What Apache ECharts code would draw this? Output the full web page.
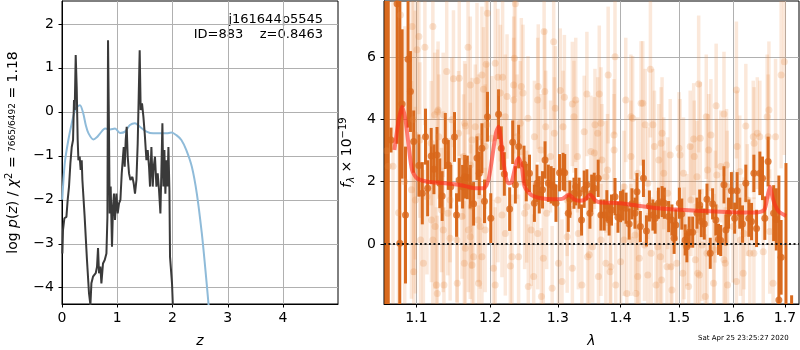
<!DOCTYPE html>
<html>
<head>
<meta charset="utf-8">
<script src="https://cdn.jsdelivr.net/npm/echarts@6/dist/echarts.min.js"></script>
<style>
  html, body { margin: 0; padding: 0; background: #fff; }
  #chart { width: 800px; height: 350px; }
</style>
</head>
<body>
<div id="chart"></div>
<script>
// left panel: log p(z) and chi2 curve
const zTicks = [0, 1, 2, 3, 4]
const logpTicks = [-4, -3, -2, -1, 0, 1, 2]
const zBlack = [0.007, 0.018, 0.043, 0.08, 0.103, 0.127, 0.152, 0.176, 0.2, 0.217, 0.23, 0.248, 0.266, 0.284, 0.297, 0.32, 0.338, 0.357, 0.369, 0.41, 0.452, 0.489, 0.514, 0.532, 0.561, 0.61, 0.634, 0.652, 0.67, 0.695, 0.713, 0.742, 0.773, 0.804, 0.822, 0.833, 0.851, 0.863, 0.881, 0.905, 0.923, 0.941, 0.959, 0.985, 1.008, 1.032, 1.057, 1.081, 1.099, 1.117, 1.135, 1.153, 1.171, 1.189, 1.213, 1.238, 1.274, 1.298, 1.321, 1.347, 1.37, 1.388, 1.406, 1.424, 1.448, 1.473, 1.497, 1.528, 1.551, 1.575, 1.593, 1.618, 1.642, 1.66, 1.683, 1.709, 1.732, 1.756, 1.781, 1.799, 1.817, 1.835, 1.853, 1.871, 1.89, 1.908, 1.926, 1.944, 1.955, 1.973, 1.991, 2.009]
const logpBlack = [-3.22, -2.69, -2.42, -2.39, -2.0, -1.7, -1.17, -0.8, -0.64, 0.27, 0.04, 1.29, 0.57, -0.64, -1.1, -1.02, -1.32, -1.1, -1.55, -2.39, -3.37, -4.13, -4.39, -3.9, -3.75, -3.67, -3.52, -3.1, -3.67, -3.52, -3.9, -3.45, -3.37, -3.22, -2.39, 1.63, -0.49, -2.31, -1.7, -3.07, -2.16, -1.86, -2.46, -1.86, -2.31, -2.08, -2.0, -1.4, -1.1, -0.8, -1.25, -0.64, -0.34, -1.02, -1.4, -1.55, -1.48, -1.63, -1.86, -1.55, -0.72, 0.34, 1.4, 0.04, 0.19, -0.11, -0.49, -1.1, -0.87, -1.25, -1.7, -0.8, -1.7, -1.25, -1.02, -1.7, -1.4, -1.78, -2.31, -1.32, -0.26, -1.7, -0.87, -1.86, -1.1, -1.7, -0.8, -1.78, -3.3, -3.33, -3.9, -4.5]
const zBlue = [0.005, 0.05, 0.115, 0.175, 0.235, 0.28, 0.325, 0.385, 0.43, 0.48, 0.57, 0.63, 0.69, 0.78, 0.87, 0.96, 1.05, 1.14, 1.23, 1.32, 1.41, 1.53, 1.65, 1.77, 1.89, 1.98, 2.07, 2.16, 2.25, 2.35, 2.44, 2.53, 2.59, 2.65, 2.7]
const chi2Blue = [-2.0, -1.17, -0.64, -0.27, 0.04, 0.12, 0.15, -0.04, -0.3, -0.49, -0.63, -0.58, -0.49, -0.38, -0.4, -0.38, -0.48, -0.45, -0.3, -0.26, -0.34, -0.45, -0.49, -0.49, -0.49, -0.47, -0.53, -0.64, -0.87, -1.25, -1.86, -2.76, -3.52, -4.35, -5.1]

// right panel: spectrum
const lamTicks = [1.1, 1.2, 1.3, 1.4, 1.5, 1.6, 1.7]
const fluxTicks = [0, 2, 4, 6]
const lamBold = [1.061, 1.064, 1.0675, 1.0752, 1.0786, 1.0816, 1.0859, 1.0892, 1.0923, 1.0965,
  1.1032, 1.1077, 1.1119, 1.1147, 1.1194, 1.1230, 1.1271, 1.1308, 1.1340, 1.1382,
  1.1423, 1.1456, 1.1506, 1.1534, 1.1571, 1.1617, 1.1645, 1.1682, 1.1723, 1.1769,
  1.1816, 1.1848, 1.1885, 1.1921, 1.1963, 1.2010, 1.2121, 1.2160, 1.2204, 1.2281,
  1.2325, 1.2364, 1.2412, 1.2491, 1.2524, 1.2572, 1.2645, 1.2684, 1.2718, 1.2767,
  1.2805, 1.2855, 1.2898, 1.2936, 1.2971, 1.3026, 1.3080, 1.3106, 1.3161, 1.3186,
  1.3250, 1.3278, 1.3331, 1.3369, 1.3411, 1.3454, 1.3502, 1.3530, 1.3571, 1.3635,
  1.3679, 1.3732, 1.3775, 1.3812, 1.3851, 1.3908, 1.3957, 1.4000, 1.4039, 1.4091,
  1.4142, 1.4189, 1.4240, 1.4274, 1.4331, 1.4383, 1.4434, 1.4485, 1.4544, 1.4583,
  1.4640, 1.4703, 1.4743, 1.4818, 1.4875, 1.4914, 1.4943, 1.5007, 1.5049, 1.5109,
  1.5140, 1.5182, 1.5244, 1.5322, 1.5371, 1.5400, 1.5455, 1.5504, 1.5564, 1.5607,
  1.5667, 1.5716, 1.5758, 1.5818, 1.5855, 1.5904, 1.5958, 1.6019, 1.6066, 1.6116,
  1.6168, 1.6232, 1.6290, 1.6342, 1.6387, 1.6439, 1.6503, 1.6555, 1.6600, 1.6665,
  1.6774, 1.6826, 1.6878, 1.6923, 1.7020, 1.7134]
const fluxBold = [9, 9, 3.34, 7.72, 0.02, 4.50, 0.93, 5.94, 4.90, 3.29,
  2.52, 1.63, 3.45, 1.79, 2.83, 2.40, 2.86, 1.95, 1.54, 3.31,
  2.54, 1.84, 3.44, 0.93, 2.06, 1.84, 2.16, 2.14, 1.84, 1.29,
  2.76, 2.27, 3.08, 1.37, 4.09, 0.83, 4.17, 3.08, 2.25, 1.12,
  3.27, 1.90, 3.13, 2.56, 1.97, 2.27, 1.31, 1.95, 1.58, 1.74,
  2.70, 1.95, 1.90, 1.84, 1.31, 2.29, 2.33, 2.29, 0.99, 1.44,
  1.63, 1.84, 1.63, 0.77, 1.76, 1.90, 0.99, 1.63, 1.79, 2.11,
  0.93, 0.93, 1.23, 0.77, 1.09, 1.52, 0.86, 1.20, 1.25, 1.15,
  0.64, 1.29, 0.99, 1.68, 0.56, 2.11, 0.42, 1.22, 0.93, 0.83,
  1.31, 1.36, 1.31, 0.88, 0.77, 0.18, 0.61, 1.31, 0.96, 0.13,
  -0.09, 0.38, 0.38, 0.99, 1.25, 0.72, 0.64, 1.44, -0.30, 1.29,
  0.77, 0.15, 0.11, 1.90, 0.45, 0.99, 1.71, 0.83, 1.71, 0.99,
  0.64, 1.95, 0.83, 0.72, 2.27, 0.50, 2.27, 2.11, 0.83, 2.65,
  0.99, 0.79, -1.80, -0.43, -2.6, -1.95]
const errBold = [12, 12, 0.4, 4.5, 9.5, 2.4, 2.2, 2.2, 1.3, 1.0,
  1.0, 1.0, 0.9, 0.9, 0.9, 0.8, 0.9, 0.8, 0.8, 0.9,
  0.8, 0.7, 0.8, 0.7, 0.7, 0.7, 0.7, 0.7, 0.7, 0.7,
  0.7, 0.7, 0.8, 0.7, 0.8, 0.8, 0.8, 0.7, 0.7, 0.7,
  0.7, 0.6, 0.7, 0.6, 0.6, 0.6, 0.6, 0.6, 0.6, 0.6,
  0.6, 0.6, 0.6, 0.6, 0.6, 0.6, 0.6, 0.6, 0.6, 0.6,
  0.5, 0.6, 0.5, 0.5, 0.6, 0.5, 0.5, 0.6, 0.5, 0.6,
  0.5, 0.5, 0.5, 0.5, 0.5, 0.6, 0.5, 0.5, 0.5, 0.5,
  0.5, 0.5, 0.5, 0.6, 0.5, 0.6, 0.5, 0.5, 0.5, 0.5,
  0.5, 0.5, 0.5, 0.5, 0.5, 0.5, 0.5, 0.5, 0.5, 0.5,
  0.5, 0.5, 0.5, 0.5, 0.5, 0.5, 0.5, 0.5, 0.5, 0.5,
  0.5, 0.5, 0.5, 0.6, 0.5, 0.5, 0.6, 0.5, 0.6, 0.5,
  0.6, 0.6, 0.6, 0.6, 0.6, 0.6, 0.7, 0.7, 0.7, 0.8,
  0.9, 1.0, 4.0, 1.2, 5.2, 0.3]

const lamFaint = [1.0620, 1.0640, 1.0700, 1.0770, 1.0850, 1.0960, 1.0985,
  1.0795, 1.0944, 1.1032, 1.1008, 1.1111, 1.1216, 1.1401, 1.1492, 1.1571, 1.1692,
  1.1723, 1.1816, 1.1885, 1.1945, 1.1907, 1.1963, 1.2073, 1.2112, 1.2179, 1.2339,
  1.2349, 1.2364, 1.2243, 1.2146, 1.1240, 1.1285, 1.1354, 1.1470, 1.1654, 1.1792,
  1.1954, 1.1246, 1.1216, 1.1354, 1.1447, 1.1539, 1.1654, 1.1723, 1.1769, 1.1885,
  1.1931, 1.2048, 1.1640, 1.1747, 1.1838, 1.1544, 1.1263, 1.1364, 1.1274, 1.0965,
  1.1091, 1.2073, 1.2170, 1.2291, 1.2315, 1.2411, 1.2218, 1.1198, 1.1332, 1.1447,
  1.1609, 1.1696, 1.1862, 1.1055, 1.0987, 1.1194, 1.1295, 1.1561, 1.1747, 1.1838,
  1.1931, 1.1630, 1.1723, 1.2025, 1.2218, 1.2339, 1.2388, 1.2436,
  1.0936, 1.1138, 1.1415, 1.1737, 1.1830, 1.2112, 1.2500, 1.3144, 1.1046, 1.1645,
  1.1277, 1.2451, 1.2694,
  1.2791, 1.2936, 1.2703, 1.2801, 1.2961, 1.3037, 1.3101, 1.3225, 1.3278, 1.3454,
  1.3652, 1.3796, 1.3908, 1.4502, 1.4372, 1.4086, 1.4412, 1.4201, 1.3583, 1.3679,
  1.3250, 1.3080, 1.2815, 1.2645, 1.2549, 1.2476, 1.2946, 1.3411, 1.3892, 1.4571,
  1.4544, 1.2743, 1.2888, 1.3305, 1.3518, 1.3695, 1.3786, 1.4172, 1.4286, 1.2554,
  1.2634, 1.2750, 1.2913, 1.3064, 1.3225, 1.3374, 1.3639, 1.3828, 1.3920, 1.4103,
  1.4257, 1.4458, 1.4600, 1.2779, 1.3010, 1.3491, 1.3759, 1.4000, 1.4314, 1.4515,
  1.2597, 1.2694, 1.3144, 1.3318, 1.3546, 1.4057, 1.4240, 1.4400, 1.2531, 1.2830,
  1.3626, 1.3572, 1.3893, 1.4172, 1.4343, 1.4686, 1.5000, 1.5273, 1.5516, 1.5758,
  1.6066, 1.6453, 1.6646, 1.3760, 1.4057, 1.4458, 1.4801, 1.5213, 1.5880, 1.6259,
  1.3465, 1.3839, 1.4286, 1.4858, 1.5335, 1.5818, 1.6387, 1.3679, 1.4172, 1.4629,
  1.5091, 1.5636, 1.6130,
  1.5353, 1.6052, 1.5673, 1.5491, 1.5818, 1.6232, 1.5382, 1.5262, 1.5576, 1.6375,
  1.6503, 1.6665, 1.6681, 1.6812, 1.6923, 1.6987, 1.4703, 1.4845, 1.5018, 1.5200,
  1.5535, 1.5867, 1.6116, 1.6391, 1.4647, 1.4732, 1.5080, 1.5322, 1.5685, 1.4674,
  1.4789, 1.4960, 1.4695, 1.4875, 1.5067, 1.5171, 1.5291, 1.5367, 1.5473, 1.5626,
  1.5885, 1.6052, 1.6182, 1.5840, 1.5504, 1.6762, 1.5413, 1.6309, 1.6569, 1.5140,
  1.5989, 1.6197, 1.6696, 1.4746, 1.5655]
const fluxFaint = [3.0, 2.5, 2.5, 1.0, 2.0, 4.0, 3.5,
  7.36, 6.99, 6.67, 6.24, 6.32, 6.99, 5.54, 5.31, 5.33, 6.32,
  5.11, 5.25, 5.43, 5.78, 4.97, 7.42, 5.81, 5.36, 5.36, 5.11,
  5.97, 7.72, 4.74, 4.85, 4.15, 4.31, 4.15, 3.99, 3.79, 3.77,
  3.83, 0.56, 0.13, 0.45, 0.18, 0.13, -0.14, 0.23, -0.41, -0.41,
  0.45, -0.78, -0.62, -0.68, -1.26, -1.26, -1.32, -1.32, -1.59, -0.89,
  -0.62, -1.32, 0.93, -0.71, -0.41, -0.41, 0.34, 0.77, 1.09, 1.41,
  0.88, 0.45, 0.56, 0.13, 1.41, 3.24, 3.45, 3.56, 3.34, 3.45,
  3.13, 2.81, 2.54, 3.40, 4.09, 4.63, 3.45, 3.88,
  1.74, 1.52, 0.99, 1.20, 0.77, 1.41, 0.99, 1.41, 3.34, 3.88,
  4.25, 5.06, 4.63,
  6.83, 6.50, 5.06, 4.90, 4.36, 4.93, 4.72, 4.50, 4.63, 4.82,
  4.82, 5.43, 6.02, 5.62, 4.52, 4.63, 3.83, 4.04, 3.83, 3.88,
  4.09, 3.77, 3.77, 3.45, 4.04, 4.85, 3.56, 3.61, 3.50, 3.13,
  3.83, 3.02, 2.81, 2.81, 2.97, 2.70, 2.38, 2.81, 2.27, -1.37,
  -1.05, -1.69, -1.42, -1.21, -0.78, -1.32, -1.05, -0.89, -1.32, -1.59,
  -1.59, -1.00, -1.32, -0.46, -0.62, -0.35, -0.62, -0.57, -0.46, -0.30,
  0.45, 0.34, 0.23, 0.34, -0.09, 0.13, 0.29, -0.03, 1.20, 0.99,
  3.56, 2.92, 3.02, 4.09, 4.52, 3.24, 3.08, 2.81, 2.38, 2.49,
  3.13, 3.56, 4.09, 2.16, 1.84, 1.95, 1.63, 1.41, 1.84, 1.41,
  -0.41, -0.73, -1.05, -0.73, -0.94, -0.51, -0.30, 0.13, 0.13, -0.09,
  0.02, -0.19, 0.13,
  5.14, 4.95, 4.44, 4.09, 4.18, 3.79, 3.40, 3.37, 3.50, 3.45,
  3.45, 3.45, 4.31, 3.45, 5.43, 5.86, 3.56, 2.86, 2.86, 3.13,
  3.02, 2.54, 2.33, 3.24, 2.70, 2.27, 2.27, 2.16, 2.22, -0.41,
  -0.73, -0.62, -1.16, -1.48, -0.94, -1.37, -0.51, -1.00, -1.69, -1.26,
  -1.32, -1.21, -0.94, -0.62, -0.30, -1.26, -0.03, -0.30, -0.25, 0.45,
  0.56, 0.34, 0.40, 1.20, 1.20]
const errFaint = [7, 7, 6, 6, 5, 5, 4,
  3.5, 3.0, 2.5, 3.0, 2.5, 3.0, 2.5, 2.2, 2.5, 2.8,
  2.2, 2.5, 2.2, 2.5, 2.0, 3.0, 2.5, 2.2, 2.5, 2.2,
  2.5, 3.0, 2.0, 2.2, 2.0, 2.2, 2.0, 2.0, 2.0, 2.0,
  2.0, 2.0, 2.2, 2.0, 2.0, 2.0, 2.2, 2.0, 2.0, 2.0,
  2.0, 2.2, 2.0, 2.2, 2.5, 2.5, 2.5, 2.5, 2.5, 3.5,
  3.0, 2.5, 2.0, 2.0, 2.0, 2.0, 2.0, 2.0, 2.0, 2.0,
  2.0, 2.0, 2.0, 2.5, 3.0, 2.0, 2.0, 2.0, 2.0, 2.0,
  2.0, 2.0, 2.0, 2.0, 2.0, 2.0, 2.0, 2.0,
  3.5, 2.5, 2.0, 2.0, 2.0, 2.0, 1.8, 1.8, 2.5, 2.0,
  2.0, 2.2, 2.0,
  2.5, 2.5, 2.0, 2.0, 2.0, 2.0, 2.0, 2.0, 2.0, 2.0,
  2.2, 2.2, 2.5, 2.2, 2.0, 2.0, 1.8, 2.0, 1.8, 1.8,
  1.8, 1.8, 1.8, 1.8, 2.0, 2.2, 1.8, 1.8, 1.8, 1.8,
  1.8, 1.8, 1.8, 1.8, 1.8, 1.8, 1.8, 1.8, 1.8, 2.0,
  2.0, 2.2, 2.0, 2.0, 2.0, 2.0, 2.0, 2.0, 2.0, 2.2,
  2.2, 2.0, 2.0, 1.8, 1.8, 1.8, 1.8, 1.8, 1.8, 1.8,
  1.8, 1.8, 1.8, 1.8, 1.8, 1.8, 1.8, 1.8, 1.8, 1.8,
  1.8, 1.8, 1.8, 2.0, 2.0, 1.8, 1.8, 1.8, 1.8, 1.8,
  1.8, 1.8, 2.0, 1.8, 1.8, 1.8, 1.8, 1.8, 1.8, 1.8,
  1.8, 1.8, 1.8, 1.8, 1.8, 1.8, 1.8, 1.8, 1.8, 1.8,
  1.8, 1.8, 1.8,
  2.2, 2.2, 2.0, 2.0, 2.0, 2.0, 1.8, 1.8, 1.8, 1.8,
  1.8, 2.0, 2.2, 2.5, 3.0, 3.0, 1.8, 1.8, 1.8, 1.8,
  1.8, 1.8, 1.8, 1.8, 1.8, 1.8, 1.8, 1.8, 1.8, 1.8,
  1.8, 1.8, 2.0, 2.0, 1.8, 2.0, 1.8, 2.0, 2.0, 2.0,
  2.0, 2.0, 2.0, 1.8, 1.8, 2.5, 1.8, 1.8, 1.8, 1.8,
  1.8, 1.8, 2.0, 1.8, 1.8]

const lamModel = [1.0718, 1.0773, 1.0816, 1.0859, 1.0901, 1.0944, 1.1008, 1.1147, 1.1378, 1.1562, 1.1654, 1.1792, 1.1907, 1.1976, 1.2025, 1.2083, 1.2121, 1.2160, 1.2208, 1.2258, 1.2306, 1.2374, 1.2412, 1.2462, 1.2500, 1.2597, 1.2743, 1.2936, 1.3064, 1.3170, 1.3250, 1.3331, 1.3411, 1.3507, 1.3583, 1.3652, 1.4000, 1.4286, 1.4629, 1.5322, 1.5989, 1.6426, 1.6587, 1.6653, 1.6704, 1.6750, 1.6801, 1.6878, 1.7020]
const fluxModel = [3.02, 3.99, 4.41, 3.99, 3.13, 2.38, 2.11, 2.00, 1.95, 1.90, 1.86, 1.79, 1.79, 2.06, 2.70, 3.56, 3.77, 3.24, 2.38, 1.95, 1.97, 2.59, 2.76, 2.43, 1.84, 1.58, 1.47, 1.44, 1.45, 1.58, 1.44, 1.39, 1.41, 1.58, 1.41, 1.34, 1.31, 1.23, 1.15, 1.07, 1.02, 1.01, 1.09, 1.52, 1.84, 1.52, 1.25, 1.04, 0.90]

const LAM_MIN = 1.0587, LAM_MAX = 1.7284
const F_MIN = -1.93, F_MAX = 7.81
const FONT = 'DejaVu Sans'

const minus = (v) => (v < 0 ? '\u2212' + Math.abs(v) : String(v))

const errBar = (color, width) => (params, api) => {
  const x = api.value(0)
  const y = api.value(1)
  const e = api.value(2)
  const lo = Math.max(y - e, F_MIN)
  const hi = Math.min(y + e, F_MAX)
  if (lo >= hi) return
  const p1 = api.coord([x, lo])
  const p2 = api.coord([x, hi])
  return {
    type: 'line',
    shape: { x1: p1[0], y1: p1[1], x2: p2[0], y2: p2[1] },
    style: { stroke: color, lineWidth: width },
  }
}

const axisCommon = {
  axisLine: { show: true, onZero: false, lineStyle: { color: '#000', width: 1 } },
  axisTick: { show: true, length: 3.5, lineStyle: { color: '#000', width: 1 } },
  splitLine: { show: true, lineStyle: { color: '#b0b0b0', width: 1 } },
}

const chart = echarts.init(document.getElementById('chart'), null, { renderer: 'canvas' })

const option = {
  animation: false,
  backgroundColor: '#fff',
  textStyle: { fontFamily: FONT },
  grid: [
    { left: 62, top: 1, width: 276, height: 303, outerBoundsMode: 'none', show: true, borderColor: '#000', borderWidth: 1, backgroundColor: 'transparent' },
    { left: 384, top: 1, width: 415, height: 303, outerBoundsMode: 'none', show: true, borderColor: '#000', borderWidth: 1, backgroundColor: 'transparent' },
  ],
  xAxis: [
    {
      gridIndex: 0, type: 'value', min: 0, max: 4.995,
      ...axisCommon,
      axisTick: { ...axisCommon.axisTick, customValues: zTicks },
      axisLabel: { customValues: zTicks, color: '#000', fontSize: 14, fontFamily: FONT, margin: 7 },
      name: 'z', nameLocation: 'middle', nameGap: 30,
      nameTextStyle: { fontStyle: 'italic', fontSize: 14, color: '#000', fontFamily: FONT },
    },
    {
      gridIndex: 1, type: 'value', min: Math.log(LAM_MIN), max: Math.log(LAM_MAX),
      ...axisCommon,
      axisTick: { ...axisCommon.axisTick, customValues: lamTicks.map(Math.log) },
      axisLabel: {
        customValues: lamTicks.map(Math.log), color: '#000', fontSize: 14, fontFamily: FONT, margin: 7,
        formatter: (v) => Math.exp(v).toFixed(1),
      },
      name: 'λ', nameLocation: 'middle', nameGap: 30,
      nameTextStyle: { fontStyle: 'italic', fontSize: 14, color: '#000', fontFamily: FONT },
    },
  ],
  yAxis: [
    {
      gridIndex: 0, type: 'value', min: -4.37, max: 2.52,
      ...axisCommon,
      axisTick: { ...axisCommon.axisTick, customValues: logpTicks },
      axisLabel: { customValues: logpTicks, color: '#000', fontSize: 14, fontFamily: FONT, margin: 8, formatter: minus },
      name: '{n|log }{i|p}{n|(}{i|z}{n|) / }{i|χ}{s|2}{n| = }{f|7665/6492}{n| = 1.18}',
      nameLocation: 'middle', nameGap: 40,
      nameTextStyle: {
        color: '#000',
        rich: {
          n: { fontSize: 14, fontFamily: FONT, color: '#000', lineHeight: 18 },
          i: { fontSize: 14, fontFamily: FONT, fontStyle: 'italic', color: '#000', lineHeight: 18 },
          s: { fontSize: 10, fontFamily: FONT, color: '#000', verticalAlign: 'top', lineHeight: 18 },
          f: { fontSize: 9, fontFamily: FONT, color: '#000', lineHeight: 18 },
        },
      },
    },
    {
      gridIndex: 1, type: 'value', min: F_MIN, max: F_MAX,
      ...axisCommon,
      axisTick: { ...axisCommon.axisTick, customValues: fluxTicks },
      axisLabel: { customValues: fluxTicks, color: '#000', fontSize: 14, fontFamily: FONT, margin: 8, formatter: minus },
      name: '{i|f}{b|λ}{n| × 10}{s|−19}',
      nameLocation: 'middle', nameGap: 24,
      nameTextStyle: {
        color: '#000',
        rich: {
          n: { fontSize: 14, fontFamily: FONT, color: '#000', lineHeight: 18 },
          i: { fontSize: 14, fontFamily: FONT, fontStyle: 'italic', color: '#000', lineHeight: 18 },
          b: { fontSize: 10, fontFamily: FONT, fontStyle: 'italic', color: '#000', verticalAlign: 'bottom', lineHeight: 18 },
          s: { fontSize: 10, fontFamily: FONT, color: '#000', verticalAlign: 'top', lineHeight: 18 },
        },
      },
    },
  ],
  graphic: [
    { type: 'text', right: 800 - 323, top: 13, style: { text: 'j161644p5545', font: '13px "DejaVu Sans"', fill: '#000', textAlign: 'right' } },
    { type: 'text', right: 800 - 323, top: 28, style: { text: 'ID=883    z=0.8463', font: '13px "DejaVu Sans"', fill: '#000', textAlign: 'right' } },
    { type: 'text', left: 698, top: 335, style: { text: 'Sat Apr 25 23:25:27 2020', font: '7px "DejaVu Sans"', fill: '#000' } },
  ],
  series: [
    {
      name: 'chi2', type: 'line', xAxisIndex: 0, yAxisIndex: 0,
      data: zBlue.map((z, i) => [z, chi2Blue[i]]),
      showSymbol: false, smooth: 0.3,
      lineStyle: { color: '#8fbbd9', width: 2 },
    },
    {
      name: 'pz', type: 'line', xAxisIndex: 0, yAxisIndex: 0,
      data: zBlack.map((z, i) => [z, logpBlack[i]]),
      showSymbol: false,
      lineStyle: { color: '#3a3a3a', width: 2 },
    },
    {
      name: 'faintErr', type: 'custom', xAxisIndex: 1, yAxisIndex: 1,
      data: lamFaint.map((l, i) => [Math.log(l), fluxFaint[i], errFaint[i]]),
      encode: { x: 0, y: 1 },
      renderItem: errBar('rgba(236,140,70,0.2)', 3.5),
    },
    {
      name: 'faint', type: 'scatter', xAxisIndex: 1, yAxisIndex: 1,
      data: lamFaint.map((l, i) => [Math.log(l), fluxFaint[i]]),
      symbolSize: 7,
      itemStyle: { color: 'rgba(230,140,70,0.3)' },
    },
    {
      name: 'boldErr', type: 'custom', xAxisIndex: 1, yAxisIndex: 1,
      data: lamBold.map((l, i) => [Math.log(l), fluxBold[i], errBold[i]]),
      encode: { x: 0, y: 1 },
      renderItem: errBar('#d96a1e', 3),
    },
    {
      name: 'bold', type: 'scatter', xAxisIndex: 1, yAxisIndex: 1,
      data: lamBold.map((l, i) => [Math.log(l), fluxBold[i]]),
      symbolSize: 7,
      itemStyle: { color: '#d8661a' },
    },
    {
      name: 'model', type: 'line', xAxisIndex: 1, yAxisIndex: 1,
      data: lamModel.map((l, i) => [Math.log(l), fluxModel[i]]),
      showSymbol: false, smooth: 0.25,
      lineStyle: { color: 'rgba(255,40,25,0.6)', width: 4 },
      markLine: {
        silent: true, symbol: 'none', label: { show: false },
        lineStyle: { color: '#1a1a1a', width: 2, type: [2, 2.5] },
        data: [{ yAxis: 0 }],
      },
    },
  ],
}

chart.setOption(option)
</script>
</body>
</html>
